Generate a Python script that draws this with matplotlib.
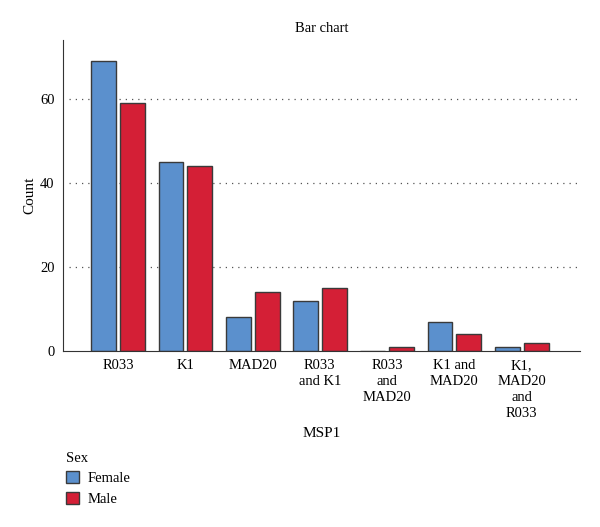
import numpy as np
import matplotlib.pyplot as plt
from matplotlib.patches import Patch

categories = ["R033", "K1", "MAD20", "R033\nand K1", "R033\nand\nMAD20",
              "K1 and\nMAD20", "K1,\nMAD20\nand\nR033"]
female = [69, 45, 8, 12, 0, 7, 1]
male = [59, 44, 14, 15, 1, 4, 2]
yticks = [0, 20, 40, 60]

blue = "#5b90cd"
red = "#d41f36"
edge = "#3a3a3a"

plt.rcParams['font.family'] = ['Liberation Serif', 'DejaVu Serif']

fig = plt.figure(figsize=(6, 5.27), dpi=100)
ax = fig.add_axes([0.105, 0.334, 0.862, 0.59])

x = np.arange(len(categories))
w = 0.37
ax.bar(x - w / 2 - 0.03, female, w, color=blue, edgecolor=edge, linewidth=1)
ax.bar(x + w / 2 + 0.03, male, w, color=red, edgecolor=edge, linewidth=1)

ax.set_xlim(-0.82, 6.87)
ax.set_ylim(0, 74)
ax.set_yticks(yticks)
ax.set_xticks(x)
ax.set_xticklabels(categories, fontsize=10.5, linespacing=1.3, va="top")
ax.tick_params(length=0, labelsize=10.5, pad=6)
for t in yticks[1:]:
    ax.axhline(t, xmin=0.012, color="#555555", linestyle=(0, (1, 4)), linewidth=0.9, zorder=0)

for s in ["top", "right"]:
    ax.spines[s].set_visible(False)
ax.spines["left"].set_color("#333333")
ax.spines["bottom"].set_color("#333333")

ax.set_title("Bar chart", fontsize=10.5, pad=6)
ax.set_ylabel("Count", fontsize=11, labelpad=3)
ax.set_xlabel("MSP1", fontsize=11, labelpad=5)

handles = [Patch(facecolor=blue, edgecolor=edge), Patch(facecolor=red, edgecolor=edge)]
fig.legend(handles, ["Female", "Male"], title="Sex", loc="upper left",
           bbox_to_anchor=(0.088, 0.168), frameon=False, fontsize=10.5,
           title_fontsize=10.5, handlelength=0.9, handleheight=0.9,
           handletextpad=0.6, labelspacing=0.45, alignment="left")

fig.savefig("out.png", dpi=100)
